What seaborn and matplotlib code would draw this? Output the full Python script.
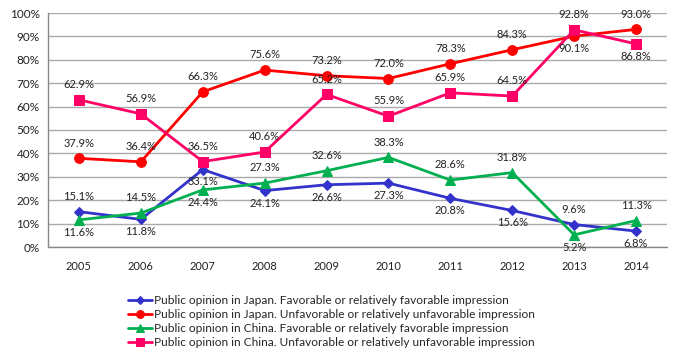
import matplotlib
matplotlib.use("Agg")
import matplotlib.pyplot as plt
import seaborn as sns
import pandas as pd

years = ["2005", "2006", "2007", "2008", "2009", "2010", "2011", "2012", "2013", "2014"]
japan_fav = [15.1, 11.8, 33.1, 24.1, 26.6, 27.3, 20.8, 15.6, 9.6, 6.8]
japan_unfav = [37.9, 36.4, 66.3, 75.6, 73.2, 72.0, 78.3, 84.3, 90.1, 93.0]
china_fav = [11.6, 14.5, 24.4, 27.3, 32.6, 38.3, 28.6, 31.8, 5.2, 11.3]
china_unfav = [62.9, 56.9, 36.5, 40.6, 65.2, 55.9, 65.9, 64.5, 92.8, 86.8]
series_names = [
    "Public opinion in Japan. Favorable or relatively favorable impression",
    "Public opinion in Japan. Unfavorable or relatively unfavorable impression",
    "Public opinion in China. Favorable or relatively favorable impression",
    "Public opinion in China. Unfavorable or relatively unfavorable impression",
]
# label placement: 1 above, -1 below
japan_fav_pos = [1, -1, -1, -1, -1, -1, -1, -1, 1, -1]
japan_unfav_pos = [1, 1, 1, 1, 1, 1, 1, 1, -1, 1]
china_fav_pos = [-1, 1, -1, 1, 1, 1, 1, 1, -1, 1]
china_unfav_pos = [1, 1, 1, 1, 1, 1, 1, 1, 1, -1]

sns.set_theme(style="white")
plt.rcParams["font.family"] = ["Lato", "DejaVu Sans"]

fig = plt.figure(figsize=(6.8, 3.6), dpi=100)
ax = fig.add_axes([48 / 680, 1 - 247 / 360, (667 - 48) / 680, (247 - 13) / 360])

styles = [
    dict(color="#3333CC", marker="D", markersize=5),
    dict(color="#FF0000", marker="o", markersize=7),
    dict(color="#00B050", marker="^", markersize=7),
    dict(color="#FF0066", marker="s", markersize=7),
]
all_vals = [japan_fav, japan_unfav, china_fav, china_unfav]
all_pos = [japan_fav_pos, japan_unfav_pos, china_fav_pos, china_unfav_pos]
xs = list(range(len(years)))

for name, vals, pos, st in zip(series_names, all_vals, all_pos, styles):
    df = pd.DataFrame({"x": xs, "y": vals})
    sns.lineplot(data=df, x="x", y="y", ax=ax, color=st["color"], marker=st["marker"],
                 markersize=st["markersize"], markeredgecolor=st["color"], linewidth=2,
                 label=name, legend=False)
    for x, v, p in zip(xs, vals, pos):
        if p > 0:
            ax.annotate(f"{v:.1f}%", (x, v), xytext=(0, 7), textcoords="offset points",
                        ha="center", va="bottom", fontsize=8, color="#222222")
        else:
            ax.annotate(f"{v:.1f}%", (x, v), xytext=(0, -5), textcoords="offset points",
                        ha="center", va="top", fontsize=8, color="#222222")

ax.set_xlim(-0.5, 9.5)
ax.set_ylim(0, 100)
ax.set_yticks(range(0, 101, 10))
ax.set_yticklabels([f"{t}%" for t in range(0, 101, 10)], fontsize=8.5, color="#222222")
ax.set_xticks(xs)
ax.set_xticklabels(years, fontsize=8, color="#222222")
ax.set_xticks([i + 0.5 for i in range(-1, 10)], minor=True)
ax.tick_params(axis="x", which="major", length=0, pad=10)
ax.tick_params(axis="x", which="minor", length=4, color="#888888", direction="out")
ax.tick_params(axis="y", length=4, color="#888888", direction="out", pad=2)
ax.set_xlabel("")
ax.set_ylabel("")
ax.grid(axis="y", color="#AAAAAA", linewidth=1)
ax.set_axisbelow(True)
for s in ["top", "right"]:
    ax.spines[s].set_visible(False)
for s in ["left", "bottom"]:
    ax.spines[s].set_color("#888888")
    ax.spines[s].set_linewidth(1)

handles, labels = ax.get_legend_handles_labels()
fig.legend(handles, labels, loc="upper left", bbox_to_anchor=(128 / 680, 1 - 295 / 360),
           frameon=False, fontsize=8.6, handlelength=2.0, handletextpad=0.2,
           labelspacing=0.25, borderpad=0, borderaxespad=0, markerscale=0.8)

fig.savefig("out.png", dpi=100)
